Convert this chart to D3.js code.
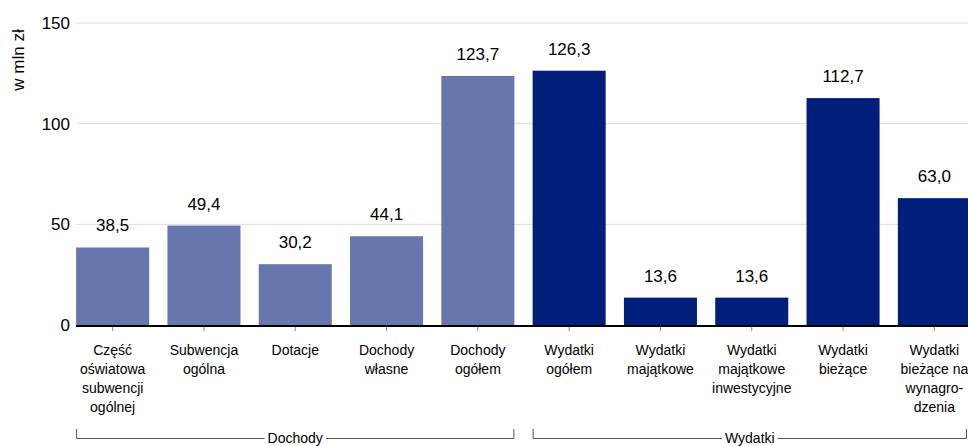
<!DOCTYPE html>
<html>
<head>
<meta charset="utf-8">
<script src="https://cdn.jsdelivr.net/npm/d3@7"></script>
<style>
  body { margin: 0; background: #fff; }
  text { font-family: "Liberation Sans", Arial, sans-serif; fill: #000; }
</style>
</head>
<body>
<svg id="chart" width="968" height="446"></svg>
<script>
const categories = [
    ["Część", "oświatowa", "subwencji", "ogólnej"],
    ["Subwencja", "ogólna"],
    ["Dotacje"],
    ["Dochody", "własne"],
    ["Dochody", "ogółem"],
    ["Wydatki", "ogółem"],
    ["Wydatki", "majątkowe"],
    ["Wydatki", "majątkowe", "inwestycyjne"],
    ["Wydatki", "bieżące"],
    ["Wydatki", "bieżące na", "wynagro-", "dzenia"]
];
const values = [38.5, 49.4, 30.2, 44.1, 123.7, 126.3, 13.6, 13.6, 112.7, 63.0];
const groupOf = ["d", "d", "d", "d", "d", "w", "w", "w", "w", "w"];
const yTicks = [0, 50, 100, 150];
const groups = [
    {name: "Dochody", from: 0, to: 4},
    {name: "Wydatki", from: 5, to: 9}
];

const svg = d3.select("#chart");
const plotLeft = 76, plotRight = 968;

const x = d3.scaleBand()
    .domain(d3.range(values.length))
    .range([67, 980])
    .paddingInner(0.2)
    .paddingOuter(0.1);
const y = d3.scaleLinear().domain([0, 150]).range([325, 23]);

const fmt = v => v.toFixed(1).replace(".", ",");

// grid
svg.append("g").selectAll("line").data(yTicks.filter(d => d > 0)).enter().append("line")
    .attr("x1", plotLeft).attr("x2", plotRight)
    .attr("y1", d => y(d)).attr("y2", d => y(d))
    .attr("stroke", "#dedede").attr("stroke-width", 1);

// y tick labels
svg.append("g").selectAll("text").data(yTicks).enter().append("text")
    .attr("x", 70).attr("y", d => y(d))
    .attr("dy", "0.35em")
    .attr("text-anchor", "end")
    .attr("font-size", 17)
    .text(d => d);

svg.append("text")
    .attr("transform", "translate(24,60) rotate(-90)")
    .attr("text-anchor", "middle")
    .attr("font-size", 17)
    .text("w mln zł");

// bars
svg.append("g").selectAll("rect").data(values).enter().append("rect")
    .attr("x", (d, i) => x(i))
    .attr("y", d => y(d))
    .attr("width", x.bandwidth())
    .attr("height", d => y(0) - y(d))
    .attr("fill", (d, i) => groupOf[i] === "d" ? "#6777ad" : "#001f7a");

// value labels
svg.append("g").selectAll("text").data(values).enter().append("text")
    .attr("x", (d, i) => x(i) + x.bandwidth() / 2)
    .attr("y", d => y(d) - 16)
    .attr("text-anchor", "middle")
    .attr("font-size", 17)
    .text(d => fmt(d));

// x axis line and ticks
svg.append("line")
    .attr("x1", plotLeft).attr("x2", plotRight)
    .attr("y1", y(0) + 1).attr("y2", y(0) + 1)
    .attr("stroke", "#000").attr("stroke-width", 2);
svg.append("g").selectAll("line").data(values).enter().append("line")
    .attr("x1", (d, i) => x(i) + x.bandwidth() / 2)
    .attr("x2", (d, i) => x(i) + x.bandwidth() / 2)
    .attr("y1", y(0) + 2).attr("y2", y(0) + 6)
    .attr("stroke", "#888");

// category labels
const cat = svg.append("g").selectAll("text").data(categories).enter().append("text")
    .attr("x", (d, i) => x(i) + x.bandwidth() / 2)
    .attr("y", 355)
    .attr("text-anchor", "middle")
    .attr("font-size", 14);
cat.selectAll("tspan").data(d => d).enter().append("tspan")
    .attr("x", function() { return this.parentNode.getAttribute("x"); })
    .attr("dy", (d, j) => j === 0 ? 0 : 19)
    .text(d => d);

// group brackets
const by = 438;
groups.forEach(g => {
    const x0 = x(g.from);
    const x1 = Math.min(x(g.to) + x.bandwidth(), plotRight - 1);
    const cx = (x0 + x1) / 2;
    const t = svg.append("text")
        .attr("x", cx).attr("y", by).attr("dy", "0.35em")
        .attr("text-anchor", "middle")
        .attr("font-size", 14)
        .text(g.name);
    const w = t.node().getComputedTextLength();
    svg.append("path")
        .attr("d", `M${x0 + 0.5},${by - 9}V${by + 0.5}H${cx - w / 2 - 3}M${cx + w / 2 + 3},${by + 0.5}H${x1 - 0.5}V${by - 9}`)
        .attr("fill", "none")
        .attr("stroke", "#555");
});
</script>
</body>
</html>
